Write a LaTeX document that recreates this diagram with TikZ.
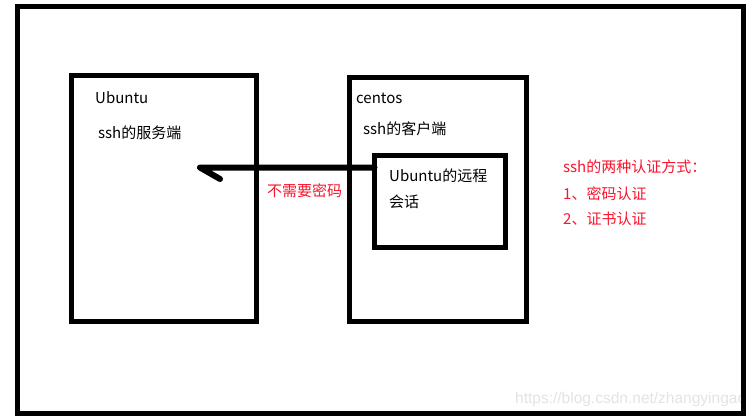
\documentclass[tikz,border=0pt]{standalone}
\usepackage{fontspec}
\setmainfont{Noto Sans CJK SC}
\newfontfamily\wmfont{Liberation Sans}
\definecolor{redtxt}{RGB}{250,20,45}
\definecolor{wmgray}{RGB}{228,228,228}
\tikzset{
  frame/.style={draw=black, line width=5pt, rectangle, inner sep=0pt, outer sep=0pt, anchor=north west},
  lbl/.style={inner sep=0pt, anchor=base west, font=\fontsize{15}{18}\selectfont, text=black},
  redlbl/.style={lbl, text=redtxt},
  wm/.style={inner sep=0pt, anchor=base west, font=\wmfont\fontsize{15.5}{18}\selectfont, text=wmgray},
  conn/.style={draw=black, line width=6pt, line cap=round, line join=round}
}
\begin{document}
\begin{tikzpicture}[x=1pt,y=-1pt]
\useasboundingbox (0,0) rectangle (753,418);
\fill[white] (0,0) rectangle (753,418);
% watermark (behind frame)
\begin{scope}
\clip (0,0) rectangle (741,418);
\node[wm] (water) at (515,403) {https://blog.csdn.net/zhangyingao};
\end{scope}
% boxes
\node[frame, minimum width=726pt, minimum height=407pt] (outer) at (17.5,6.5) {};
\node[frame, minimum width=185pt, minimum height=246pt] (server) at (71.5,75) {};
\node[frame, minimum width=177.5pt, minimum height=244pt] (client) at (349,77.5) {};
\node[frame, minimum width=131pt, minimum height=92pt] (remote) at (374.5,155.5) {};
% texts
\node[lbl] (t1) at (95,103) {Ubuntu};
\node[lbl] (t2) at (98,138) {ssh的服务端};
\node[lbl] (t3) at (356,103) {centos};
\node[lbl] (t4) at (363,134) {ssh的客户端};
\node[lbl] (t5) at (389,181.5) {Ubuntu的远程};
\node[lbl] (t6) at (389,207) {会话};
\node[redlbl] (t7) at (267,196) {不需要密码};
\node[redlbl] (r1) at (563,172.5) {ssh的两种认证方式：};
\node[redlbl] (r2) at (563,199.5) {1、密码认证};
\node[redlbl] (r3) at (563,224.5) {2、证书认证};
% connector with hand-drawn half head
\coordinate (tip) at (200,167.5);
\coordinate (barb) at (220,179);
\draw[conn] (remote.west |- tip) -- (tip) -- (barb);
\end{tikzpicture}
\end{document}
